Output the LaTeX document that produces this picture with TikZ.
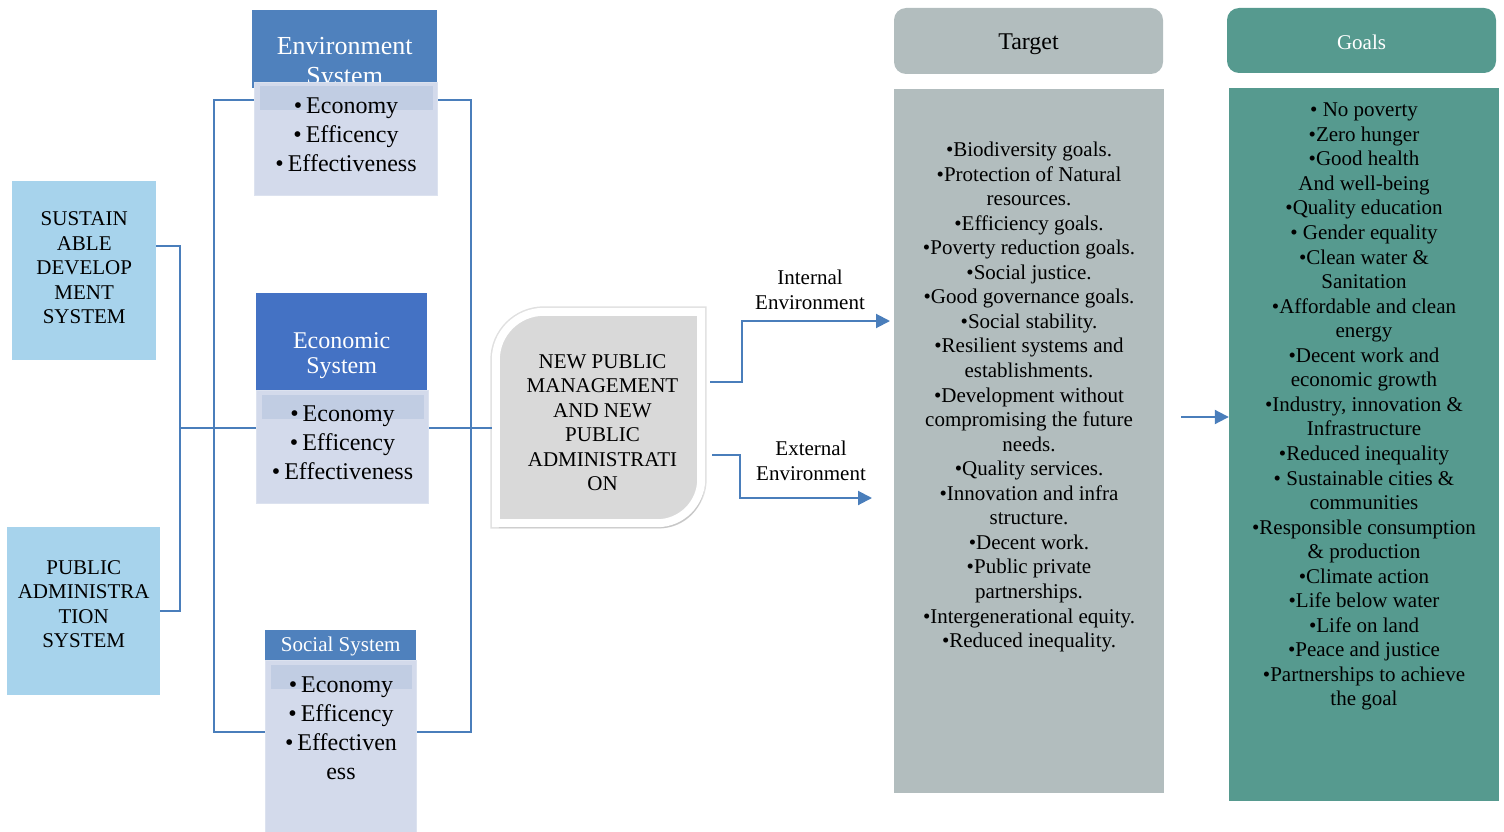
\documentclass[tikz,border=0pt]{standalone}
\usepackage{fontspec}
\setmainfont{Liberation Serif}
\usetikzlibrary{positioning,arrows.meta,shadows}

\definecolor{skyfill}{HTML}{A7D3EC}
\definecolor{sysblue}{HTML}{4F81BD}
\definecolor{ecoblue}{HTML}{4472C4}
\definecolor{itemfill}{HTML}{D3DAEB}
\definecolor{itemedge}{HTML}{DCE2EF}
\definecolor{itemband}{HTML}{C1CDE3}
\definecolor{npmgray}{HTML}{D9D9D9}
\definecolor{tgtgray}{HTML}{B2BDBE}
\definecolor{goalteal}{HTML}{569A8F}
\definecolor{linkblue}{HTML}{4A7EBB}

\begin{document}
\begin{tikzpicture}[
  x=1pt, y=-1pt,
  every node/.style={inner sep=0pt, align=center},
  link/.style={draw=linkblue, line width=2pt},
  flow/.style={link, -{Triangle[length=14pt,width=14pt]}},
  sysbox/.style={fill=skyfill, anchor=north west, font=\fontsize{21}{24.5}\selectfont},
  headbox/.style={fill=sysblue, anchor=north west},
  headtext/.style={text=white},
  itembox/.style={fill=itemfill, draw=itemedge, line width=1pt, anchor=north west,
    path picture={\fill[itemband] ([xshift=5pt,yshift=-4pt]path picture bounding box.north west)
      rectangle ([xshift=-5pt,yshift=-28pt]path picture bounding box.north east);}},
  itemtext/.style={anchor=north, font=\fontsize{24}{29}\selectfont},
  plaintext/.style={font=\fontsize{21}{24.5}\selectfont},
  listtext/.style={anchor=north, font=\fontsize{21}{24.55}\selectfont}
]
\useasboundingbox (0,0) rectangle (1504,832);

% Outer systems
\node[sysbox, minimum width=144pt, minimum height=179pt] (sds) at (12,181) {};
\node[plaintext] (sdstext) at ([yshift=3pt]sds.center)
  {SUSTAIN\\ABLE\\DEVELOP\\MENT\\SYSTEM};
\node[sysbox, minimum width=153pt, minimum height=168pt] (pas) at (7,527) {};
\node[plaintext] (pastext) at ([yshift=7pt]pas.center)
  {PUBLIC\\ADMINISTRA\\TION\\SYSTEM};

% Environment system
\node[headbox, minimum width=185pt, minimum height=78pt] (envhead) at (252,10) {};
\node[headtext, anchor=north, font=\fontsize{26}{30}\selectfont] (envtitle)
  at ([yshift=-27pt]envhead.north) {Environment\\System};
\node[itembox, minimum width=183pt, minimum height=113pt] (envbody) at (254,82) {};
\node[itemtext] (envitems) at ([yshift=-16pt]envbody.north)
  {•\,Economy\\•\,Efficency\\•\,Effectiveness};

% Economic system
\node[headbox, fill=ecoblue, minimum width=171pt, minimum height=97pt] (ecohead) at (256,293) {};
\node[headtext, font=\fontsize{24}{25}\selectfont] (ecotitle)
  at ([yshift=-14pt]ecohead.center) {Economic\\System};
\node[itembox, minimum width=172pt, minimum height=113pt] (ecobody) at (256,390) {};
\node[itemtext] (ecoitems) at ([yshift=-16pt]ecobody.north)
  {•\,Economy\\•\,Efficency\\•\,Effectiveness};

% Social system
\node[headbox, headtext, minimum width=151pt, minimum height=32pt,
  font=\fontsize{21}{24}\selectfont] (sochead) at (265,630) {Social System};
\node[itembox, minimum width=151pt, minimum height=172pt] (socbody) at (265,660) {};
\node[itemtext] (socitems) at ([yshift=-17pt]socbody.north)
  {•\,Economy\\•\,Efficency\\•\,Effectiven\\ess};

% New public management
\node[minimum width=205pt, minimum height=211pt] (npm) at (598.5,417.5) {};
\filldraw[fill=npmgray, draw=white, line width=8pt,
  preaction={draw=black!12, line width=11pt},
  drop shadow={shadow xshift=3pt, shadow yshift=-5pt, opacity=.25}]
  (npm.south west) -- ([yshift=-48pt]npm.north west)
  arc[start angle=180, end angle=90, radius=48pt] -- (npm.north east)
  -- ([yshift=44pt]npm.south east)
  arc[start angle=0, end angle=-90, radius=44pt] -- cycle;
\node[plaintext] (npmtext) at ([xshift=4pt,yshift=-5pt]npm.center)
  {NEW PUBLIC\\MANAGEMENT\\AND NEW\\PUBLIC\\ADMINISTRATI\\ON};

% Target
\node[fill=tgtgray, rounded corners=12pt, minimum width=269pt, minimum height=66pt] (tgthead) at (1028.5,41) {};
\node[font=\fontsize{24}{26}\selectfont] (tgttitle) at ([yshift=-3pt]tgthead.center) {Target};
\node[fill=tgtgray, minimum width=270pt, minimum height=704pt] (tgtbody) at (1029,441) {};
\node[listtext] (tgtlist) at ([yshift=-53pt]tgtbody.north)
  {•Biodiversity goals.\\•Protection of Natural\\resources.\\•Efficiency goals.\\
   •Poverty reduction goals.\\•Social justice.\\•Good governance goals.\\
   •Social stability.\\•Resilient systems and\\establishments.\\
   •Development without\\compromising the future\\needs.\\•Quality services.\\
   •Innovation and infra\\structure.\\•Decent work.\\•Public private\\
   partnerships.\\•Intergenerational equity.\\•Reduced inequality.};

% Goals
\node[fill=goalteal, rounded corners=12pt, minimum width=269pt,
  minimum height=65pt] (goalhead) at (1361.5,40.5) {};
\node[text=white, font=\fontsize{21}{24}\selectfont] (goaltitle) at ([yshift=-2pt]goalhead.center) {Goals};
\node[fill=goalteal, minimum width=270pt, minimum height=713pt] (goalbody) at (1364,444.5) {};
\node[listtext] (goallist) at ([yshift=-15pt]goalbody.north)
  {•~No poverty\\•Zero hunger\\•Good health\\And well-being\\•Quality education\\
   •~Gender equality\\•Clean water \&\\Sanitation\\•Affordable and clean\\energy\\
   •Decent work and\\economic growth\\•Industry, innovation \&\\Infrastructure\\
   •Reduced inequality\\•~Sustainable cities \&\\communities\\
   •Responsible consumption\\\& production\\•Climate action\\•Life below water\\
   •Life on land\\•Peace and justice\\•Partnerships to achieve\\the goal};

% Connectors
\coordinate (lj) at (180,428);
\coordinate (lb) at (214,428);
\coordinate (rb) at (471,428);
\draw[link] ([yshift=24.5pt]sds.east) -| (lj) |- (pas.east);
\draw[link] (lj) -- (ecobody.west |- lj);
\draw[link] ([yshift=38.5pt]envbody.west) -| (lb) |- ([yshift=15pt]socbody.west);
\draw[link] ([yshift=38.5pt]envbody.east) -| (rb) |- ([yshift=15pt]socbody.east);
\draw[link] (ecobody.east |- rb) -- ([xshift=-4pt]npm.west |- rb);

\coordinate (intin) at (890,321);
\coordinate (extin) at (872,498);
\draw[flow] ([xshift=9pt,yshift=35.5pt]npm.east) -- ++(32,0) |- (intin);
\draw[flow] ([xshift=11pt,yshift=-37.5pt]npm.east) -- ++(28,0) |- (extin);
\node[plaintext] (intlabel) at (810,290) {Internal\\Environment};
\node[plaintext] (extlabel) at (811,461) {External\\Environment};

\coordinate (goalfeed) at (1181,417);
\draw[flow] (goalfeed) -- (goalbody.west |- goalfeed);

\end{tikzpicture}
\end{document}
